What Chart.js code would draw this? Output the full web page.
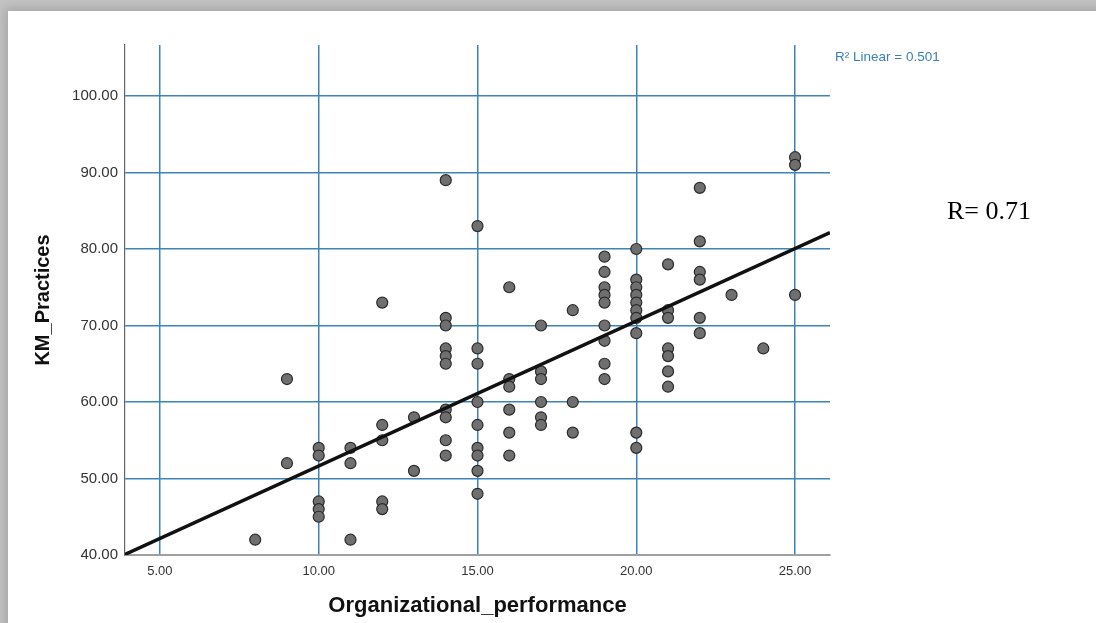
<!DOCTYPE html>
<html lang="en">
<head>
    <meta charset="UTF-8"/>
    <title>KM_Practices vs Organizational_performance</title>
    <script src="https://cdn.jsdelivr.net/npm/chart.js"></script>
    <style>
        html, body { margin: 0; padding: 0; width: 1096px; height: 623px; overflow: hidden; background: #c4c4c4; }
        .frame {
            position: absolute; left: 8px; top: 11px; width: 1200px; height: 700px;
            background: #fff; box-shadow: 0 0 10px 4px #a8a8a8;
        }
        #wrap { position: absolute; left: 0; top: 0; width: 1096px; height: 623px; }
        .r2 {
            position: absolute; left: 835px; top: 49px;
            font: 13.5px "Liberation Sans", Arial, sans-serif; color: #3a7fb5;
        }
        .rval {
            position: absolute; left: 947px; top: 196px;
            font: 26px "Liberation Serif", "Times New Roman", serif; color: #000;
        }
    </style>
</head>
<body>
    <div class="frame"></div>
    <div id="wrap"><canvas id="scatter" width="1096" height="623"></canvas></div>
    <div class="r2">R² Linear = 0.501</div>
    <div class="rval">R= 0.71</div>
    <script>
        // datos
        const orgPerformance = [
            8,
            9, 9,
            10, 10, 10, 10, 10,
            11, 11, 11,
            12, 12, 12, 12, 12,
            13, 13,
            14, 14, 14, 14, 14, 14, 14, 14, 14, 14,
            15, 15, 15, 15, 15, 15, 15, 15, 15,
            16, 16, 16, 16, 16, 16,
            17, 17, 17, 17, 17, 17,
            18, 18, 18,
            19, 19, 19, 19, 19, 19, 19, 19, 19,
            20, 20, 20, 20, 20, 20, 20, 20, 20, 20,
            21, 21, 21, 21, 21, 21, 21,
            22, 22, 22, 22, 22, 22,
            23,
            24,
            25, 25, 25
        ];
        const kmPractices = [
            42,
            63, 52,
            54, 53, 47, 46, 45,
            54, 52, 42,
            73, 57, 55, 47, 46,
            58, 51,
            89, 71, 70, 67, 66, 65, 59, 58, 55, 53,
            83, 67, 65, 60, 57, 54, 53, 51, 48,
            75, 63, 62, 59, 56, 53,
            70, 64, 63, 60, 58, 57,
            72, 60, 56,
            79, 77, 75, 74, 73, 70, 68, 65, 63,
            80, 76, 75, 74, 73, 72, 71, 69, 56, 54,
            78, 72, 71, 67, 66, 64, 62,
            88, 81, 77, 76, 71, 69,
            74,
            67,
            92, 91, 74
        ];
        const xTicks = [5, 10, 15, 20, 25];
        const yTicks = [40, 50, 60, 70, 80, 90, 100];
        const xMin = 3.9, xMax = 26.1;
        const yMin = 40, yMax = 106.67;

        const puntos = orgPerformance.map((x, i) => ({ x: x, y: kmPractices[i] }));

        // recta de minimos cuadrados
        const n = puntos.length;
        const mx = orgPerformance.reduce((a, b) => a + b, 0) / n;
        const my = kmPractices.reduce((a, b) => a + b, 0) / n;
        let sxy = 0, sxx = 0;
        puntos.forEach(p => { sxy += (p.x - mx) * (p.y - my); sxx += (p.x - mx) * (p.x - mx); });
        const pendiente = sxy / sxx;
        const intercepto = my - pendiente * mx;
        const recta = [xMin, xMax].map(x => ({ x: x, y: intercepto + pendiente * x }));

        const azul = '#3e84b6';
        const fuente = "'Liberation Sans', Arial, sans-serif";

        new Chart(document.getElementById('scatter'), {
            type: 'scatter',
            data: {
                datasets: [
                    {
                        type: 'line',
                        data: recta,
                        borderColor: '#111',
                        borderWidth: 3.5,
                        pointRadius: 0,
                        fill: false,
                        order: 0
                    },
                    {
                        data: puntos,
                        backgroundColor: '#6f6f6f',
                        borderColor: '#2a2a2a',
                        borderWidth: 1.2,
                        pointRadius: 5.5,
                        pointHoverRadius: 5.5,
                        order: 1
                    }
                ]
            },
            options: {
                responsive: false,
                animation: false,
                layout: { padding: { left: 0, top: 45, right: 266, bottom: 0 } },
                plugins: { legend: { display: false }, tooltip: { enabled: false } },
                scales: {
                    x: {
                        type: 'linear',
                        min: xMin,
                        max: xMax,
                        afterBuildTicks: s => { s.ticks = xTicks.map(v => ({ value: v })); },
                        afterFit: s => { s.height = 623 - 555; },
                        grid: { color: azul, lineWidth: 1.5, drawTicks: false },
                        border: { color: '#a0a0a0', width: 2 },
                        ticks: {
                            padding: 9,
                            color: '#333',
                            font: { family: fuente, size: 13 },
                            callback: v => v.toFixed(2)
                        },
                        title: {
                            display: true,
                            text: 'Organizational_performance',
                            color: '#111',
                            font: { family: fuente, size: 22, weight: 'bold' },
                            padding: { top: 0, bottom: 4 }
                        }
                    },
                    y: {
                        type: 'linear',
                        min: yMin,
                        max: yMax,
                        afterBuildTicks: s => { s.ticks = yTicks.map(v => ({ value: v })); },
                        afterFit: s => { s.width = 125; },
                        grid: {
                            color: c => (c.tick && c.tick.value === yMin) ? 'rgba(0,0,0,0)' : azul,
                            lineWidth: 1.5,
                            drawTicks: false
                        },
                        border: { color: '#666', width: 1.2 },
                        ticks: {
                            padding: 7,
                            color: '#333',
                            font: { family: fuente, size: 15 },
                            callback: v => v.toFixed(2)
                        },
                        title: {
                            display: true,
                            text: 'KM_Practices',
                            color: '#111',
                            font: { family: fuente, size: 20, weight: 'bold' },
                            padding: { top: 31, bottom: 0 }
                        }
                    }
                }
            }
        });
    </script>
</body>
</html>
